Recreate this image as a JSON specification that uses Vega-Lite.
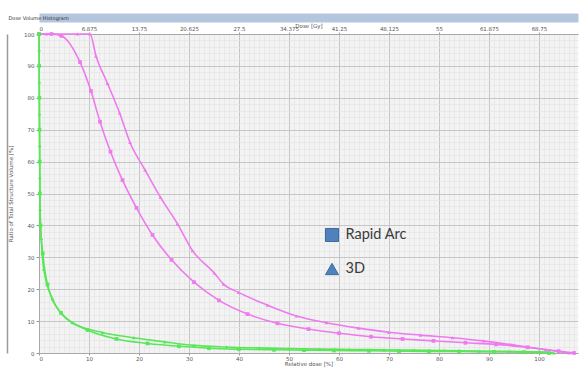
{
  "$schema": "https://vega.github.io/schema/vega-lite/v6.json",
  "width": 539,
  "height": 319,
  "autosize": {"type": "none"},
  "padding": {"left": 39, "top": 34, "right": 1, "bottom": 14},
  "background": "white",
  "config": {
    "view": {"fill": "#f3f3f3", "stroke": null},
    "axis": {
      "labelFont": "DejaVu Sans",
      "titleFont": "DejaVu Sans",
      "labelFontSize": 5.5,
      "titleFontSize": 5.5,
      "labelColor": "#555555",
      "titleColor": "#555555",
      "titleFontWeight": "normal",
      "tickColor": "#999999",
      "domainColor": "#a8a8a8"
    },
    "legend": {"symbolFillColor": "#4f81bd", "symbolStrokeColor": "#3d6a9e"}
  },
  "data": {
    "values": [
      {"s": "A", "plan": "3D", "rel": 0, "vol": 100},
      {"s": "A", "plan": "3D", "rel": 1.5, "vol": 100},
      {"s": "A", "plan": "3D", "rel": 7.7, "vol": 100},
      {"s": "A", "plan": "3D", "rel": 10.2, "vol": 100},
      {"s": "A", "plan": "3D", "rel": 11.4, "vol": 93.1},
      {"s": "A", "plan": "3D", "rel": 13.7, "vol": 84.5},
      {"s": "A", "plan": "3D", "rel": 16.1, "vol": 75.3},
      {"s": "A", "plan": "3D", "rel": 18.2, "vol": 66},
      {"s": "A", "plan": "3D", "rel": 21.2, "vol": 57.4},
      {"s": "A", "plan": "3D", "rel": 24.3, "vol": 48.8},
      {"s": "A", "plan": "3D", "rel": 27.7, "vol": 40.5},
      {"s": "A", "plan": "3D", "rel": 30.7, "vol": 32.1},
      {"s": "A", "plan": "3D", "rel": 35.1, "vol": 25},
      {"s": "A", "plan": "3D", "rel": 36.9, "vol": 21.6},
      {"s": "A", "plan": "3D", "rel": 39.9, "vol": 19},
      {"s": "A", "plan": "3D", "rel": 45.7, "vol": 15},
      {"s": "A", "plan": "3D", "rel": 51.5, "vol": 11.6},
      {"s": "A", "plan": "3D", "rel": 57.5, "vol": 9.5},
      {"s": "A", "plan": "3D", "rel": 63.9, "vol": 7.8},
      {"s": "A", "plan": "3D", "rel": 70, "vol": 6.5},
      {"s": "A", "plan": "3D", "rel": 76.3, "vol": 5.6},
      {"s": "A", "plan": "3D", "rel": 82.7, "vol": 4.8},
      {"s": "A", "plan": "3D", "rel": 88.9, "vol": 3.8},
      {"s": "A", "plan": "3D", "rel": 95, "vol": 2.5},
      {"s": "A", "plan": "3D", "rel": 101.3, "vol": 1.0},
      {"s": "A", "plan": "3D", "rel": 106, "vol": 0},
      {"s": "A", "plan": "Rapid Arc", "rel": 0, "vol": 100},
      {"s": "A", "plan": "Rapid Arc", "rel": 2.5, "vol": 100},
      {"s": "A", "plan": "Rapid Arc", "rel": 4.5, "vol": 99.4},
      {"s": "A", "plan": "Rapid Arc", "rel": 8.2, "vol": 91.2},
      {"s": "A", "plan": "Rapid Arc", "rel": 10.4, "vol": 82.1},
      {"s": "A", "plan": "Rapid Arc", "rel": 12.2, "vol": 72.5},
      {"s": "A", "plan": "Rapid Arc", "rel": 14.3, "vol": 63.1},
      {"s": "A", "plan": "Rapid Arc", "rel": 16.7, "vol": 54.2},
      {"s": "A", "plan": "Rapid Arc", "rel": 19.5, "vol": 45.5},
      {"s": "A", "plan": "Rapid Arc", "rel": 22.7, "vol": 37},
      {"s": "A", "plan": "Rapid Arc", "rel": 26.5, "vol": 29.2},
      {"s": "A", "plan": "Rapid Arc", "rel": 31, "vol": 22.2},
      {"s": "A", "plan": "Rapid Arc", "rel": 36, "vol": 16.5},
      {"s": "A", "plan": "Rapid Arc", "rel": 41.7, "vol": 12.2},
      {"s": "A", "plan": "Rapid Arc", "rel": 47.7, "vol": 9.3},
      {"s": "A", "plan": "Rapid Arc", "rel": 53.9, "vol": 7.5},
      {"s": "A", "plan": "Rapid Arc", "rel": 60, "vol": 6.2},
      {"s": "A", "plan": "Rapid Arc", "rel": 66.4, "vol": 5.1},
      {"s": "A", "plan": "Rapid Arc", "rel": 72.7, "vol": 4.4},
      {"s": "A", "plan": "Rapid Arc", "rel": 78.9, "vol": 3.8},
      {"s": "A", "plan": "Rapid Arc", "rel": 85.3, "vol": 3.2},
      {"s": "A", "plan": "Rapid Arc", "rel": 91.4, "vol": 2.7},
      {"s": "A", "plan": "Rapid Arc", "rel": 97.7, "vol": 1.8},
      {"s": "A", "plan": "Rapid Arc", "rel": 103.9, "vol": 0.6},
      {"s": "A", "plan": "Rapid Arc", "rel": 107, "vol": 0},
      {"s": "B", "plan": "3D", "rel": 0, "vol": 100},
      {"s": "B", "plan": "3D", "rel": 0.02, "vol": 95},
      {"s": "B", "plan": "3D", "rel": 0.05, "vol": 85},
      {"s": "B", "plan": "3D", "rel": 0.08, "vol": 75},
      {"s": "B", "plan": "3D", "rel": 0.12, "vol": 65},
      {"s": "B", "plan": "3D", "rel": 0.16, "vol": 55},
      {"s": "B", "plan": "3D", "rel": 0.22, "vol": 45},
      {"s": "B", "plan": "3D", "rel": 0.45, "vol": 35.9},
      {"s": "B", "plan": "3D", "rel": 0.95, "vol": 26.3},
      {"s": "B", "plan": "3D", "rel": 2.7, "vol": 17},
      {"s": "B", "plan": "3D", "rel": 6.7, "vol": 9.5},
      {"s": "B", "plan": "3D", "rel": 12.7, "vol": 6.4},
      {"s": "B", "plan": "3D", "rel": 18.9, "vol": 4.8},
      {"s": "B", "plan": "3D", "rel": 25.1, "vol": 3.5},
      {"s": "B", "plan": "3D", "rel": 31, "vol": 2.4},
      {"s": "B", "plan": "3D", "rel": 37.5, "vol": 1.9},
      {"s": "B", "plan": "3D", "rel": 44, "vol": 1.6},
      {"s": "B", "plan": "3D", "rel": 50, "vol": 1.4},
      {"s": "B", "plan": "3D", "rel": 56, "vol": 1.2},
      {"s": "B", "plan": "3D", "rel": 62, "vol": 1.1},
      {"s": "B", "plan": "3D", "rel": 69, "vol": 1.0},
      {"s": "B", "plan": "3D", "rel": 75, "vol": 0.9},
      {"s": "B", "plan": "3D", "rel": 81, "vol": 0.8},
      {"s": "B", "plan": "3D", "rel": 88, "vol": 0.6},
      {"s": "B", "plan": "3D", "rel": 94, "vol": 0.5},
      {"s": "B", "plan": "3D", "rel": 100, "vol": 0.4},
      {"s": "B", "plan": "3D", "rel": 103, "vol": 0},
      {"s": "B", "plan": "Rapid Arc", "rel": 0, "vol": 100},
      {"s": "B", "plan": "Rapid Arc", "rel": 0.03, "vol": 90},
      {"s": "B", "plan": "Rapid Arc", "rel": 0.07, "vol": 80},
      {"s": "B", "plan": "Rapid Arc", "rel": 0.1, "vol": 70},
      {"s": "B", "plan": "Rapid Arc", "rel": 0.14, "vol": 60},
      {"s": "B", "plan": "Rapid Arc", "rel": 0.18, "vol": 50},
      {"s": "B", "plan": "Rapid Arc", "rel": 0.3, "vol": 40},
      {"s": "B", "plan": "Rapid Arc", "rel": 0.75, "vol": 31.2},
      {"s": "B", "plan": "Rapid Arc", "rel": 1.7, "vol": 21.5},
      {"s": "B", "plan": "Rapid Arc", "rel": 4.4, "vol": 12.6},
      {"s": "B", "plan": "Rapid Arc", "rel": 9.7, "vol": 7.2},
      {"s": "B", "plan": "Rapid Arc", "rel": 15.5, "vol": 4.4},
      {"s": "B", "plan": "Rapid Arc", "rel": 21.7, "vol": 3.0},
      {"s": "B", "plan": "Rapid Arc", "rel": 28, "vol": 2.1},
      {"s": "B", "plan": "Rapid Arc", "rel": 34, "vol": 1.5},
      {"s": "B", "plan": "Rapid Arc", "rel": 40, "vol": 1.2},
      {"s": "B", "plan": "Rapid Arc", "rel": 47, "vol": 1.0},
      {"s": "B", "plan": "Rapid Arc", "rel": 53, "vol": 0.9},
      {"s": "B", "plan": "Rapid Arc", "rel": 59, "vol": 0.8},
      {"s": "B", "plan": "Rapid Arc", "rel": 66, "vol": 0.7},
      {"s": "B", "plan": "Rapid Arc", "rel": 72, "vol": 0.6},
      {"s": "B", "plan": "Rapid Arc", "rel": 78, "vol": 0.5},
      {"s": "B", "plan": "Rapid Arc", "rel": 84, "vol": 0.45},
      {"s": "B", "plan": "Rapid Arc", "rel": 91, "vol": 0.35},
      {"s": "B", "plan": "Rapid Arc", "rel": 97, "vol": 0.25},
      {"s": "B", "plan": "Rapid Arc", "rel": 102, "vol": 0}
    ]
  },
  "resolve": {"axis": {"x": "independent", "y": "independent"}},
  "layer": [
    {
      "transform": [{"filter": "datum.s == 'A'"}],
      "mark": {"type": "line", "interpolate": "monotone", "strokeWidth": 1.6},
      "encoding": {
        "x": {
          "field": "rel", "type": "quantitative",
          "scale": {"domain": [0, 107.8], "nice": false, "zero": false},
          "axis": {
            "orient": "bottom",
            "values": [0, 10, 20, 30, 40, 50, 60, 70, 80, 90, 100],
            "grid": true, "gridColor": "#c6c6c6", "gridWidth": 1,
            "tickSize": 2, "labelPadding": 1,
            "title": "Relative dose [%]", "titlePadding": 0
          }
        },
        "y": {
          "field": "vol", "type": "quantitative",
          "scale": {"domain": [0, 100], "nice": false},
          "axis": {
            "orient": "left",
            "values": [0, 10, 20, 30, 40, 50, 60, 70, 80, 90, 100],
            "grid": true, "gridColor": "#c6c6c6", "gridWidth": 1,
            "tickSize": 3, "labelPadding": 2,
            "title": "Ratio of Total Structure Volume [%]",
            "titleX": -26, "titleY": 159.5
          }
        },
        "color": {
          "field": "s", "type": "nominal",
          "scale": {"domain": ["A", "B"], "range": ["#ef79ef", "#59e659"]},
          "legend": null
        },
        "detail": {"field": "plan"}
      }
    },
    {
      "transform": [{"filter": "datum.s == 'B'"}],
      "mark": {"type": "line", "interpolate": "monotone", "strokeWidth": 1.6},
      "encoding": {
        "x": {
          "field": "rel", "type": "quantitative",
          "axis": {
            "orient": "top",
            "values": [1,2,3,4,5,6,7,8,9,11,12,13,14,15,16,17,18,19,21,22,23,24,25,26,27,28,29,31,32,33,34,35,36,37,38,39,41,42,43,44,45,46,47,48,49,51,52,53,54,55,56,57,58,59,61,62,63,64,65,66,67,68,69,71,72,73,74,75,76,77,78,79,81,82,83,84,85,86,87,88,89,91,92,93,94,95,96,97,98,99,101,102,103,104,105,106,107],
            "grid": true, "gridColor": "#e2e2e2", "gridWidth": 0.6,
            "labels": false, "ticks": false, "domain": false, "title": null
          }
        },
        "y": {
          "field": "vol", "type": "quantitative",
          "axis": {
            "orient": "left",
            "values": [2,4,6,8,12,14,16,18,22,24,26,28,32,34,36,38,42,44,46,48,52,54,56,58,62,64,66,68,72,74,76,78,82,84,86,88,92,94,96,98],
            "grid": true, "gridColor": "#e2e2e2", "gridWidth": 0.6,
            "labels": false, "ticks": false, "domain": false, "title": null
          }
        },
        "color": {"field": "s", "type": "nominal", "legend": null},
        "detail": {"field": "plan"}
      }
    },
    {
      "transform": [{"filter": "datum.s == 'A'"}],
      "mark": {"type": "point", "filled": true, "size": 14, "opacity": 1},
      "encoding": {
        "x": {
          "field": "rel", "type": "quantitative",
          "axis": {
            "orient": "top",
            "values": [0, 10, 20, 30, 40, 50, 60, 70, 80, 90, 100],
            "labelExpr": "toString(datum.value * 0.6875)",
            "grid": false, "tickSize": 2, "labelPadding": 1,
            "title": "Dose [Gy]", "titlePadding": -2
          }
        },
        "y": {
          "field": "vol", "type": "quantitative",
          "axis": {
            "orient": "left", "offset": 32,
            "domain": true, "domainColor": "#9a9a9a", "domainWidth": 1.5,
            "labels": false, "ticks": false, "grid": false, "title": null
          }
        },
        "color": {"field": "s", "type": "nominal", "legend": null},
        "shape": {
          "field": "plan", "type": "nominal",
          "scale": {"domain": ["Rapid Arc", "3D"], "range": ["square", "triangle-up"]},
          "legend": {
            "orient": "none", "legendX": 285.5, "legendY": 193.5,
            "title": null, "padding": 0,
            "symbolSize": 170, "rowPadding": 16, "labelOffset": 6,
            "symbolFillColor": "#4f81bd", "symbolStrokeColor": "#3d6a9e",
            "symbolStrokeWidth": 1, "symbolOpacity": 1,
            "labelFont": "Lato", "labelFontSize": 14.5, "labelColor": "#3b3b3b",
            "encode": {
              "symbols": {
                "enter": {
                  "fill": {"value": "#4f81bd"},
                  "stroke": {"value": "#3d6a9e"}
                },
                "update": {
                  "fill": {"value": "#4f81bd"},
                  "stroke": {"value": "#3d6a9e"},
                  "strokeWidth": {"value": 1},
                  "opacity": {"value": 1}
                }
              }
            }
          }
        }
      }
    },
    {
      "transform": [{"filter": "datum.s == 'B'"}],
      "mark": {"type": "point", "filled": true, "size": 14, "opacity": 1},
      "encoding": {
        "x": {
          "field": "rel", "type": "quantitative",
          "axis": {
            "orient": "top", "offset": 16.5,
            "domain": true, "domainColor": "#b3c6de", "domainWidth": 9, "domainCap": "butt",
            "labels": false, "ticks": false, "grid": false,
            "title": "Dose Volume Histogram",
            "titleX": -31, "titleY": 0, "titleAlign": "left", "titleBaseline": "middle",
            "titleFontSize": 5, "titleColor": "#333333"
          }
        },
        "y": {"field": "vol", "type": "quantitative", "axis": null},
        "color": {"field": "s", "type": "nominal", "legend": null},
        "shape": {"field": "plan", "type": "nominal"}
      }
    }
  ]
}
